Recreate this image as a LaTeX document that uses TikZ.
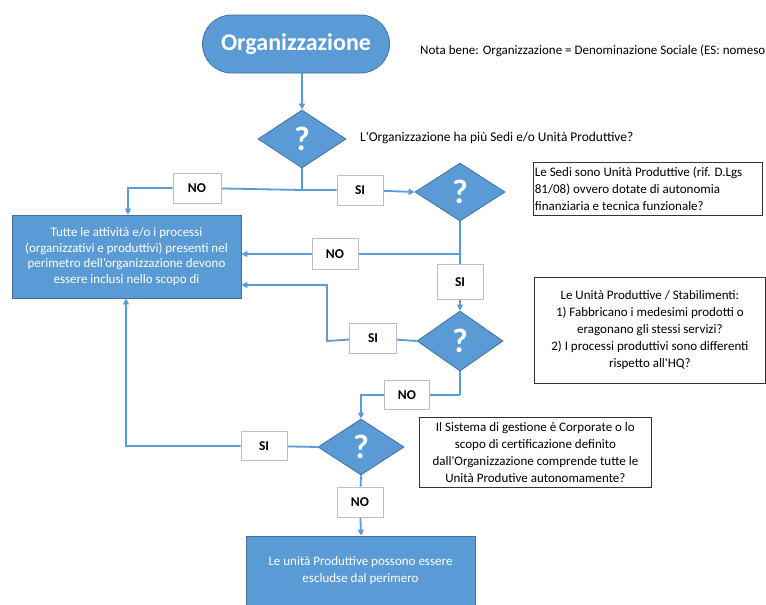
\documentclass[tikz,border=0pt]{standalone}
\usepackage{fontspec}
\setmainfont{Carlito}
\usetikzlibrary{shapes.geometric,arrows.meta,backgrounds}
\definecolor{fillblue}{HTML}{5B9BD5}
\definecolor{edgeblue}{HTML}{41719C}
\definecolor{lblgray}{HTML}{BFBFBF}
\begin{document}
\begin{tikzpicture}[x=1pt,y=-1pt,
  decision/.style={diamond, fill=fillblue, draw=edgeblue, line width=0.8pt,
    minimum width=88pt, minimum height=58pt, inner sep=0pt, text=white,
    font=\fontsize{34}{34}\selectfont\bfseries},
  processbox/.style={rectangle, fill=fillblue, draw=edgeblue, line width=0.8pt,
    text=white, align=center, inner sep=0pt, font=\fontsize{13}{15.5}\selectfont},
  lbl/.style={rectangle, fill=white, draw=lblgray, line width=0.8pt,
    minimum width=46pt, minimum height=30pt, inner sep=0pt,
    font=\fontsize{13.5}{13.5}\selectfont\bfseries},
  note/.style={rectangle, fill=white, draw=black!80, line width=0.8pt,
    inner sep=0pt, font=\fontsize{13}{17}\selectfont},
  flow/.style={draw=fillblue, line width=1.8pt},
  flowarrow/.style={flow, -{Triangle[length=6pt,width=6pt]}}
]
\useasboundingbox (0,0) rectangle (766,605);

% terminator
\node[fill=fillblue, draw=edgeblue, line width=0.8pt, rounded corners=29pt,
  minimum width=187pt, minimum height=58pt, inner sep=0pt, text=white,
  font=\fontsize{24}{24}\selectfont\bfseries] (org) at (296,44) {Organizzazione};
\node[anchor=west, inner sep=0pt, font=\fontsize{13}{15}\selectfont] (nota) at (420,51)
  {Nota bene: Organizzazione = Denominazione Sociale (ES: nomeso};

% decisions
\node[decision] (d1) at (302,139) {?};
\node[anchor=west, inner sep=0pt, font=\fontsize{13.4}{15}\selectfont] (q1) at (360,138)
  {L\textquotesingle Organizzazione ha più Sedi e/o Unità Produttive?};
\node[decision, minimum width=90pt] (d2) at (460,192) {?};
\node[decision, minimum width=86pt, minimum height=60pt] (d3) at (460,341) {?};
\node[decision, minimum width=86pt, minimum height=56pt] (d4) at (361,447) {?};

% process boxes
\node[processbox, minimum width=229pt, minimum height=83pt] (box1) at (126.5,256.5)
  {\rule{0pt}{3pt}Tutte le attività e/o i processi\\(organizzativi e produttivi) presenti nel\\perimetro dell’organizzazione devono\\essere inclusi nello scopo di};
\node[processbox, minimum width=229pt, minimum height=70pt, font=\fontsize{13}{17}\selectfont] (box5) at (360.5,571)
  {Le unità Produttive possono essere\\escludse dal perimero};

% notes
\node[note, minimum width=229pt, minimum height=53pt, align=flush left, anchor=north west,
  text width=226pt, inner xsep=1.5pt] (t2) at (533,162)
  {Le Sedi sono Unità Produttive (rif. D.Lgs\\81/08) ovvero dotate di autonomia\\finanziaria e tecnica funzionale?};
\node[note, minimum width=231pt, minimum height=106pt, align=center, anchor=north west] (t3) at (534,277)
  {Le Unità Produttive / Stabilimenti:\\1) Fabbricano i medesimi prodotti o\\eragonano gli stessi servizi?\\2) I processi produttivi sono differenti\\rispetto all\textquotesingle HQ?};
\node[note, minimum width=232pt, minimum height=70pt, align=center, anchor=north west] (t4) at (419,417)
  {Il Sistema di gestione è Corporate o lo\\scopo di certificazione definito\\dall\textquotesingle Organizzazione comprende tutte le\\Unità Produtive autonomamente?};

% labels
\node[lbl, minimum width=48pt] (no1) at (197,188) {NO};
\node[lbl] (si1) at (360,190) {SI};
\node[lbl, minimum height=31pt] (no2) at (335,254) {NO};
\node[lbl, minimum height=35pt] (si2) at (460,282) {SI};
\node[lbl, minimum width=47pt] (si3) at (373,338) {SI};
\node[lbl, minimum width=45pt, minimum height=29pt] (no3) at (407,395) {NO};
\node[lbl, minimum height=29pt] (si4) at (264,446) {SI};
\node[lbl] (no4) at (360,502) {NO};

% junction coordinates
\coordinate (j1) at (302,190);
\coordinate (j2) at (460,254);
\coordinate (j3) at (327,341);
\coordinate (j4) at (460,395);

\begin{pgfonlayer}{background}
\fill[white] (0,0) rectangle (766,605);
\draw[flowarrow] (d1.north |- org.south) -- (d1.north);
\draw[flow] (d1.south) -- (j1);
\draw[flowarrow] (j1) -- (no1) -| (box1.north -| 128,0);
\draw[flowarrow] (j1) -- (si1) -- (d2.west);
\draw[flow] (d2.south) -- (j2);
\draw[flowarrow] (j2) -- (no2) -- (box1.east |- j2);
\draw[flowarrow] (j2) -- (si2) -- (d3.north);
\draw[flowarrow] (d3.west) -- (si3) -- (j3) -- (327,285) -- (box1.east |- 0,285);
\draw[flow] (d3.south) -- (j4);
\draw[flowarrow] (j4) -- (no3) -| (d4.north);
\draw[flowarrow] (d4.west) -- (si4) -| (box1.south -| 126,0);
\draw[flowarrow] (d4.south) -- (no4) -- (box5.north -| d4.south);
\end{pgfonlayer}
\end{tikzpicture}
\end{document}
